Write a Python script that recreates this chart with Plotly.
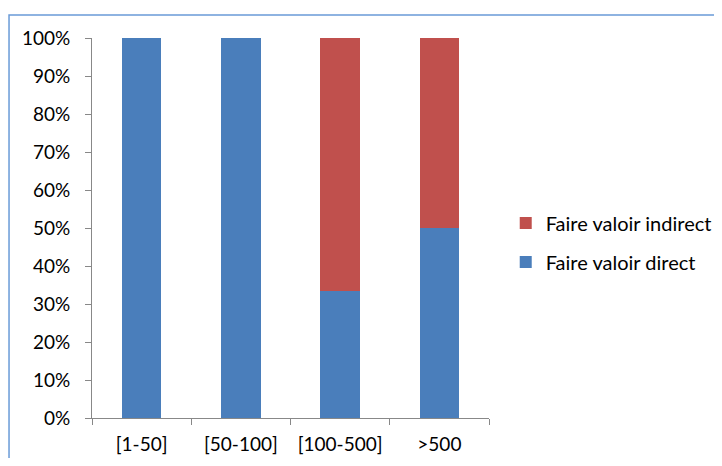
import plotly.graph_objects as go

categories = ['[1-50]', '[50-100]', '[100-500]', '>500']
direct = [100, 100, 33.3, 50]
indirect = [0, 0, 66.7, 50]
y_ticks = [0, 10, 20, 30, 40, 50, 60, 70, 80, 90, 100]
y_labels = ['%d%%' % v for v in y_ticks]

fig = go.Figure()
fig.add_trace(go.Bar(x=categories, y=direct, name='Faire valoir direct',
                     marker=dict(color='#4A7EBB', line=dict(width=0)),
                     legendgroup='a', legendrank=2))
fig.add_trace(go.Bar(x=categories, y=indirect, name='Faire valoir indirect',
                     marker=dict(color='#C0504D', line=dict(width=0)),
                     legendgroup='b', legendrank=1))

# cadre du graphique (style Excel)
fig.add_shape(type='rect', xref='paper', yref='paper',
              x0=-0.209, x1=1.62, y0=-0.2, y1=1.0605,
              line=dict(color='#6A9BD8', width=1.5), layer='below')

# la page ajoute une marge de 8px autour de la figure
fig.update_layout(
    width=706, height=450,
    margin=dict(l=84, r=225, t=30, b=40),
    barmode='stack', bargap=0.6,
    plot_bgcolor='white', paper_bgcolor='white',
    font=dict(family='Lato, Open Sans, sans-serif', size=19, color='#000000'),
    showlegend=True,
    legend=dict(xref='container', yref='container', x=0.705, y=0.479,
                xanchor='left', yanchor='middle',
                traceorder='grouped', tracegroupgap=10,
                font=dict(size=20), itemwidth=30),
    xaxis=dict(showline=True, linecolor='#888888', linewidth=1,
               ticks='outside', ticklen=6, tickcolor='#888888',
               tickson='boundaries', ticklabelstandoff=9,
               showgrid=False, automargin=False),
    yaxis=dict(range=[0, 100], tickvals=y_ticks, ticktext=y_labels,
               showline=True, linecolor='#888888', linewidth=1,
               ticks='outside', ticklen=6, tickcolor='#888888',
               ticklabelstandoff=11, showgrid=False, zeroline=False,
               automargin=False),
)

fig.write_html('out.html')
